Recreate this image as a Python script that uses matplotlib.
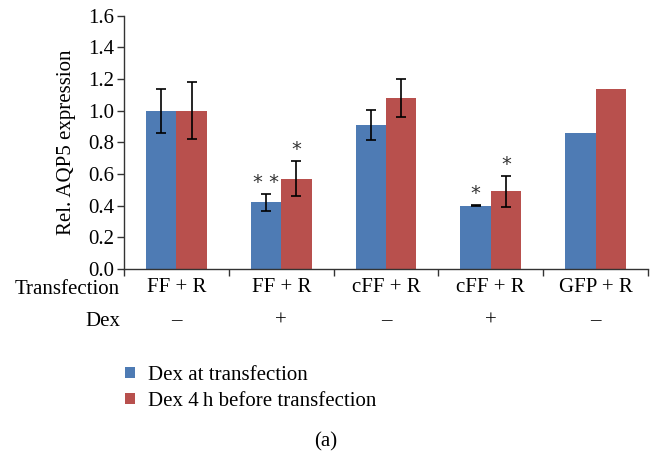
import matplotlib
matplotlib.use("Agg")
import matplotlib.pyplot as plt
import numpy as np

transfection = ["FF + R", "FF + R", "cFF + R", "cFF + R", "GFP + R"]
dex = ["\u2013", "+", "\u2013", "+", "\u2013"]
series_names = ["Dex at transfection", "Dex 4\u2009h before transfection"]
at_transfection = [1.00, 0.42, 0.91, 0.40, 0.86]
at_transfection_err = [0.14, 0.055, 0.095, 0.006, 0.0]
before_transfection = [1.00, 0.57, 1.08, 0.49, 1.14]
before_transfection_err = [0.18, 0.11, 0.12, 0.097, 0.0]
# significance marks: (category, series index, label)
marks = [(1, 0, "* *"), (1, 1, "*"), (3, 0, "*"), (3, 1, "*")]

blue = "#4E7BB4"
red = "#B8504D"
plt.rcParams["font.family"] = ["Liberation Serif", "DejaVu Serif"]
FS = 15

fig = plt.figure(figsize=(6.53, 4.54), dpi=100)
ax = fig.add_axes([0.19, 0.408, 0.8023, 0.557])

x = np.arange(len(transfection))
w = 0.29
vals = [at_transfection, before_transfection]
errs = [at_transfection_err, before_transfection_err]
colors = [blue, red]
for i in range(2):
    xs = x + (i - 0.5) * w
    ax.bar(xs, vals[i], width=w, color=colors[i], label=series_names[i], zorder=2)
    has = np.array(errs[i]) > 0
    ax.errorbar(xs[has], np.array(vals[i])[has], yerr=np.array(errs[i])[has],
                fmt="none", ecolor="black", elinewidth=1.2, capsize=3.5,
                capthick=1.2, zorder=3)

for c, s, lab in marks:
    xs = c + (s - 0.5) * w
    top = vals[s][c] + errs[s][c]
    ax.text(xs, top + 0.012, lab, ha="center", va="bottom", fontsize=14,
            color="#333333", family="DejaVu Sans")

ax.set_xlim(-0.5, 4.5)
ax.set_ylim(0, 1.6)
yt = np.arange(0, 1.61, 0.2)
ax.set_yticks(yt)
ax.set_yticklabels([f"{v:.1f}" for v in yt], fontsize=FS)
ax.set_xticks(np.arange(-0.5, 4.51, 1.0))
ax.set_xticklabels([])
ax.tick_params(axis="both", direction="out", length=5, width=1, color="#333333", pad=2)
for sp in ["top", "right"]:
    ax.spines[sp].set_visible(False)
for sp in ["left", "bottom"]:
    ax.spines[sp].set_color("#333333")
    ax.spines[sp].set_linewidth(1)
ax.set_ylabel("Rel. AQP5 expression", fontsize=FS, labelpad=9)

trans = ax.get_xaxis_transform()
for i in range(len(transfection)):
    ax.text(x[i], -0.075, transfection[i], transform=trans, ha="center", va="center", fontsize=FS)
    ax.text(x[i], -0.205, dex[i], transform=trans, ha="center", va="center", fontsize=FS)
fig.text(120 / 653, 1 - 289 / 454, "Transfection", ha="right", va="center", fontsize=FS)
fig.text(120 / 653, 1 - 321 / 454, "Dex", ha="right", va="center", fontsize=FS)

handles, labels = ax.get_legend_handles_labels()
fig.legend(handles, labels, loc="upper left", bbox_to_anchor=(125 / 653, 1 - 366 / 454),
           frameon=False, fontsize=FS, handlelength=0.48, handleheight=0.48,
           handletextpad=0.62, labelspacing=0.33, borderaxespad=0, borderpad=0)

fig.text(326 / 653, 1 - 442 / 454, "(a)", ha="center", va="center", fontsize=FS)

fig.savefig("out.png", dpi=100)
